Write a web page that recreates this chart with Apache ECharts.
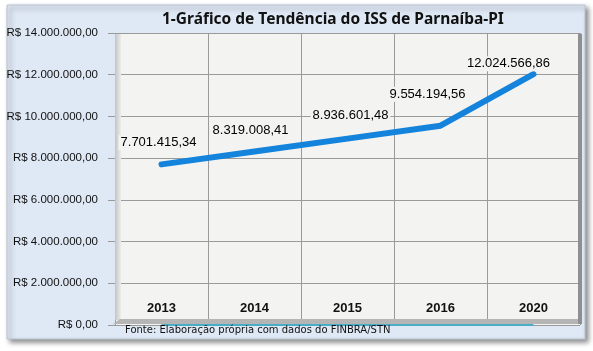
<!DOCTYPE html>
<html>
<head>
<meta charset="utf-8">
<script src="https://cdn.jsdelivr.net/npm/echarts@6/dist/echarts.min.js"></script>
<style>
  html, body { margin: 0; padding: 0; background: #fff; }
  #chart { width: 593px; height: 351px; }
</style>
</head>
<body>
<div id="chart"></div>
<script>
// dados do gráfico
const anos = ['2013', '2014', '2015', '2016', '2020'];
const iss = [7701415.34, 8319008.41, 8936601.48, 9554194.56, 12024566.86];
const baseZero = [0, 0, 0, 0, 0];

// formata número no padrão brasileiro: 1.234.567,89
function fmtBR (v) {
  const partes = v.toFixed(2).split('.');
  const inteiro = partes[0].replace(/\B(?=(\d{3})+(?!\d))/g, '.');
  return inteiro + ',' + partes[1];
}

const myChart = echarts.init(document.getElementById('chart'));

// deslocamento dos rótulos (ajuste fino de posição)
const labelOffset = [[-3, 2], [-4, 2], [3, 0], [-13, -8], [-25, 13]];

const option = {
  animation: false,
  backgroundColor: '#ffffff',
  title: {
    text: '1-Gráfico de Tendência do ISS de Parnaíba-PI',
    left: 157,
    top: 7,
    textStyle: {
      fontFamily: 'Noto Sans',
      fontSize: 15.5,
      fontWeight: 'bold',
      color: '#111'
    }
  },
  graphic: [
    // painel de fundo com sombra
    {
      type: 'rect', z: -10, silent: true,
      shape: { x: 7, y: 5, width: 578, height: 334 },
      style: {
        fill: '#dfe8f5', stroke: '#b9c3d0', lineWidth: 1,
        shadowBlur: 5, shadowOffsetX: 3, shadowOffsetY: 3, shadowColor: 'rgba(0,0,0,0.45)'
      }
    },
    // parede esquerda
    {
      type: 'rect', z: 1, silent: true,
      shape: { x: 115, y: 34, width: 6, height: 286 },
      style: {
        fill: new echarts.graphic.LinearGradient(0, 0, 1, 0, [
          { offset: 0, color: '#c4c4c4' }, { offset: 1, color: '#ececec' }
        ])
      }
    },
    // piso
    {
      type: 'polygon', z: 1, silent: true,
      shape: { points: [[113, 324], [120, 319], [580, 319], [580, 324]] },
      style: { fill: '#b5b5b5' }
    },
    // borda direita
    {
      type: 'rect', z: 1, silent: true,
      shape: { x: 578, y: 34, width: 4, height: 290 },
      style: { fill: '#8f8f8f' }
    },
    {
      type: 'text', z: 5, left: 125, top: 325,
      style: {
        text: 'Fonte: Elaboração própria com dados do FINBRA/STN',
        fontFamily: 'DejaVu Sans', fontSize: 10, fill: '#111'
      }
    }
  ],
  grid: {
    left: 115,
    right: 13,
    top: 33,
    bottom: 26,
    show: true,
    backgroundColor: '#f3f3f1',
    borderWidth: 0
  },
  xAxis: {
    type: 'category',
    data: anos,
    boundaryGap: true,
    axisLine: { show: false },
    axisTick: { show: false },
    axisLabel: {
      inside: true,
      margin: 10,
      fontFamily: 'Liberation Sans',
      fontSize: 13,
      fontWeight: 'bold',
      color: '#111'
    },
    splitLine: { show: true, lineStyle: { color: '#9a9a9a', width: 1 } }
  },
  yAxis: {
    type: 'value',
    min: 0,
    max: 14000000,
    interval: 2000000,
    axisLine: { show: false },
    axisTick: { show: true, length: 7, lineStyle: { color: '#9a9a9a' } },
    axisLabel: {
      margin: 17,
      fontFamily: 'Liberation Sans',
      fontSize: 11.5,
      color: '#111',
      formatter: function (v) {
        return v === 0 ? 'R$ 0,00' : 'R$ ' + fmtBR(v);
      }
    },
    splitLine: { show: true, lineStyle: { color: '#9a9a9a', width: 1 } }
  },
  series: [
    {
      name: 'base',
      type: 'line',
      data: baseZero,
      symbol: 'none',
      z: 0,
      lineStyle: { color: '#4bacc6', width: 2 }
    },
    {
      name: 'ISS',
      type: 'line',
      data: iss.map(function (v, i) {
        return { value: v, label: { offset: labelOffset[i] } };
      }),
      symbol: 'circle',
      symbolSize: 2,
      showSymbol: true,
      itemStyle: { color: '#1383dc' },
      z: 3,
      lineStyle: { color: '#1383dc', width: 6, cap: 'round' },
      label: {
        show: true,
        position: 'top',
        distance: 15,
        fontFamily: 'Liberation Sans',
        fontSize: 13,
        color: '#000',
        backgroundColor: '#f3f3f1',
        padding: [1, 2],
        formatter: function (p) { return fmtBR(p.value); }
      }
    }
  ]
};

myChart.setOption(option);
window.addEventListener('resize', function () {
  myChart.resize();
});
</script>
</body>
</html>
